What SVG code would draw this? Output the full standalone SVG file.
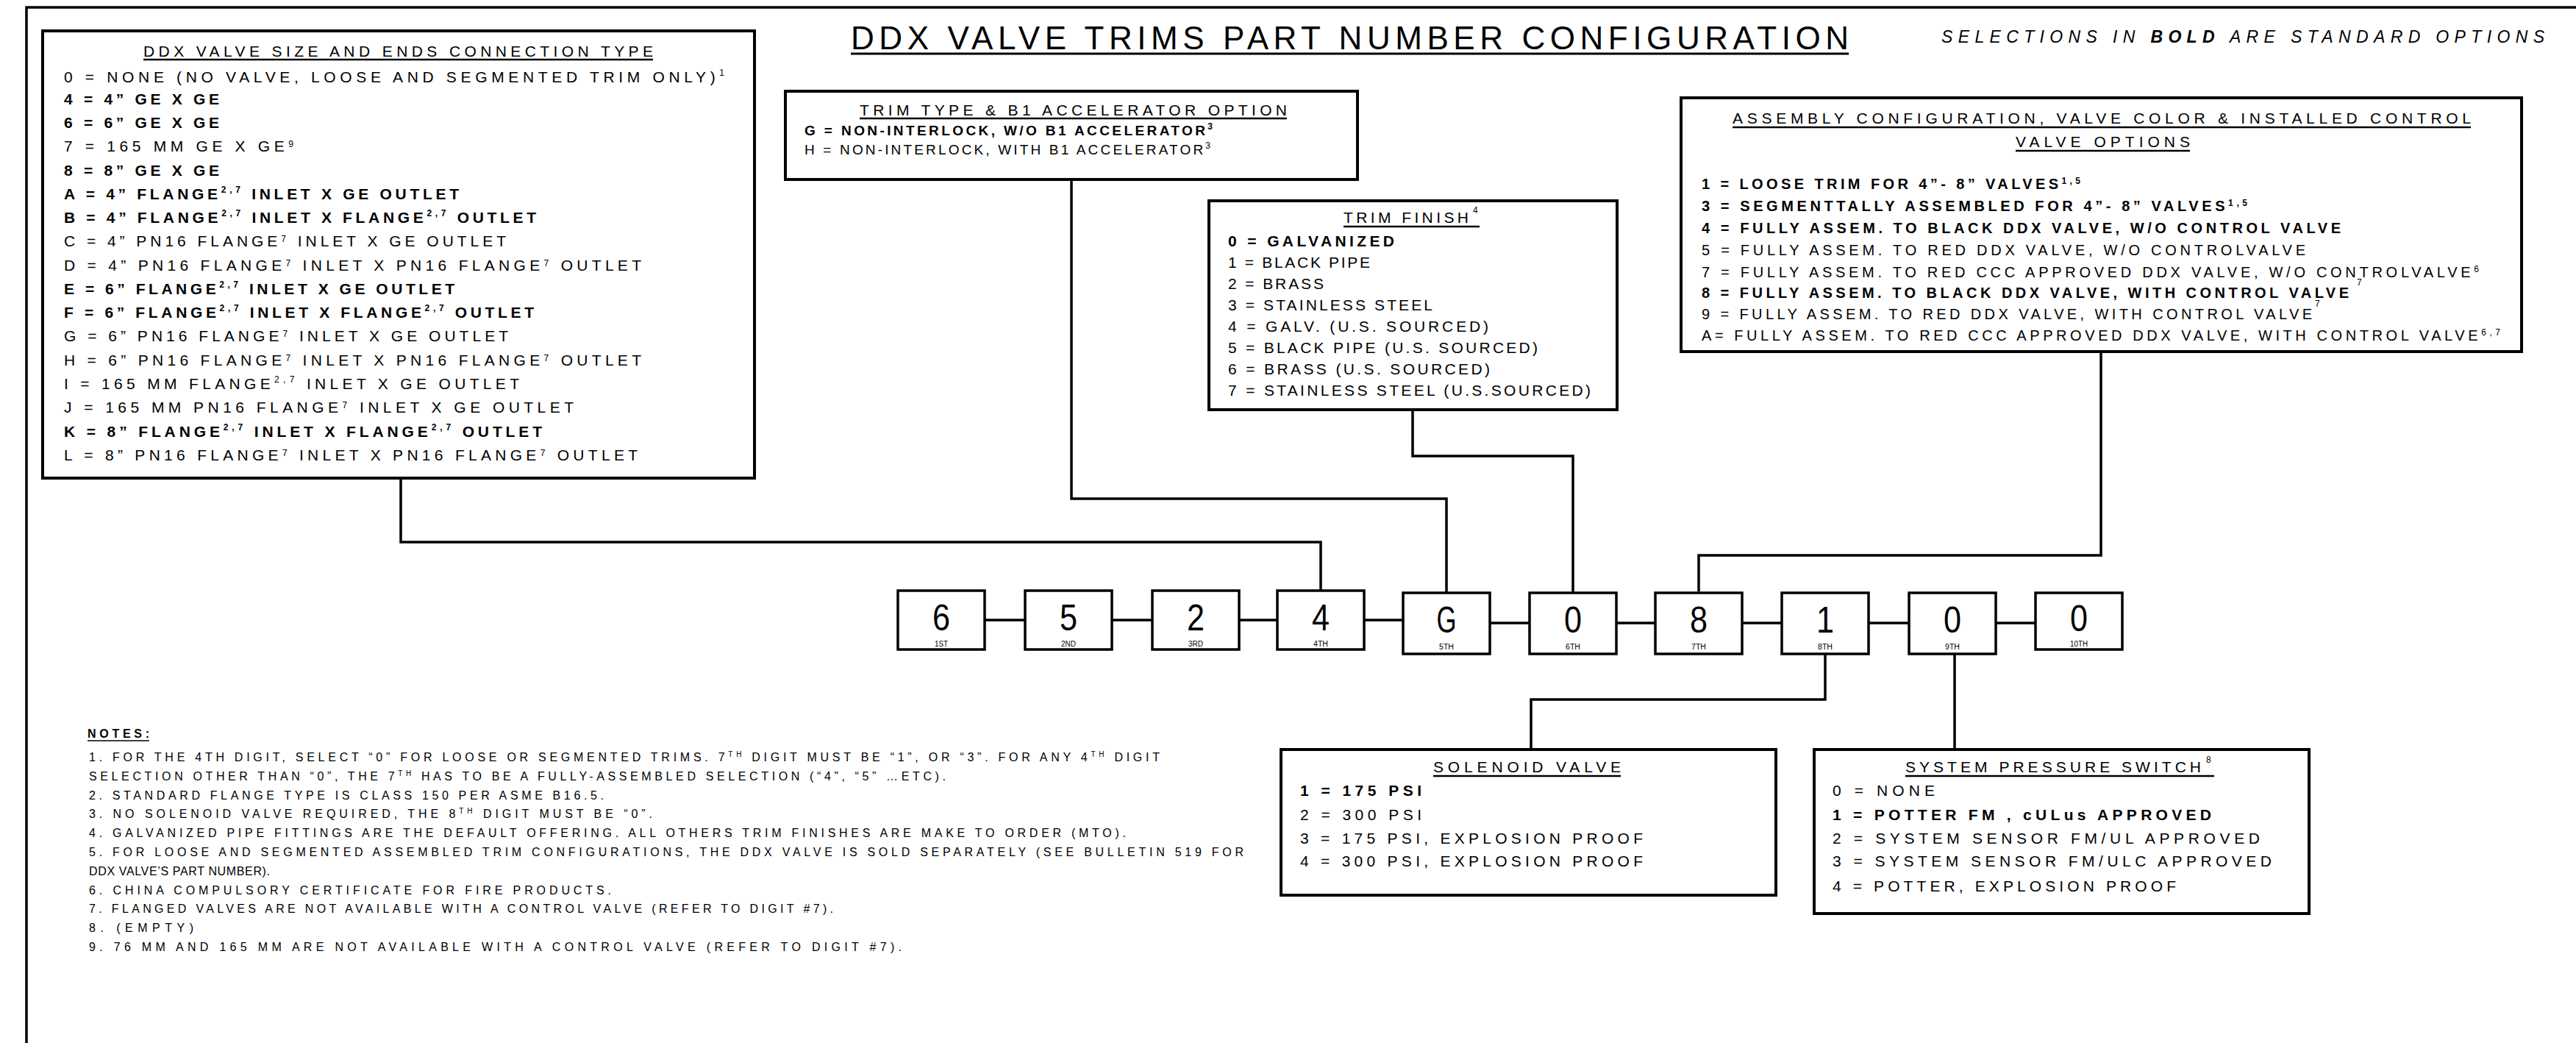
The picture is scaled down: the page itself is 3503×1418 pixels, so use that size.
<svg xmlns="http://www.w3.org/2000/svg" width="3503" height="1418" viewBox="0 0 3503 1418">
<style>
.bg{fill:#fff}
.bx{fill:#fff;stroke:#000;stroke-width:4}
.dg{fill:#fff;stroke:#000;stroke-width:3.5}
.cn{fill:none;stroke:#000;stroke-width:3.5}
.ul{stroke:#000;stroke-width:2.5}
.t{font-family:"Liberation Sans",Arial,sans-serif;font-size:21px;fill:#000}
.n{font-family:"Liberation Sans",Arial,sans-serif;font-size:16px;fill:#000}
.sm{font-family:"Liberation Sans",Arial,sans-serif;font-size:19px;fill:#000}
.b{font-weight:bold}
.s{font-size:12px}
.d{font-family:"Liberation Sans",Arial,sans-serif;font-size:50px;fill:#000;text-anchor:middle}
.o{font-family:"Liberation Sans",Arial,sans-serif;font-size:10px;fill:#000;text-anchor:middle}
</style>
<rect class="bg" x="0" y="0" width="3503" height="1418"/>
<path class="cn" d="M36,1418 V10 H3503"/>

<g id="title">
<text class="t" x="1157" y="67" style="font-size:44px" textLength="1357" lengthAdjust="spacing">DDX VALVE TRIMS PART NUMBER CONFIGURATION</text>
<line x1="1157" y1="73" x2="2514" y2="73" stroke="#000" stroke-width="3"/>
<text class="t" x="2640" y="58" style="font-size:23px;font-style:italic" textLength="820" lengthAdjust="spacing">SELECTIONS IN <tspan class="b">BOLD</tspan> ARE STANDARD OPTIONS</text>
</g>

<g id="connectors">
<path class="cn" d="M545,650 V737 H1796 V803"/>
<path class="cn" d="M1457,244 V678 H1967 V806"/>
<path class="cn" d="M1921,557 V620 H2139 V806"/>
<path class="cn" d="M2857,478 V755 H2310 V804"/>
<path class="cn" d="M1339,843 H1394 M1512,843 H1567 M1685,843 H1737 M1855,843 H1908 M2026,847 H2080 M2198,847 H2251 M2369,847 H2423 M2541,847 H2596 M2714,847 H2768"/>
<path class="cn" d="M2482,889 V951 H2082 V1019"/>
<path class="cn" d="M2658,889 V1019"/>
</g>

<g id="valve-size">
<rect class="bx" x="58" y="42" width="968" height="608"/>
<text class="t" x="195" y="77" textLength="693" lengthAdjust="spacing">DDX VALVE SIZE AND ENDS CONNECTION TYPE</text>
<line class="ul" x1="195" y1="81" x2="888" y2="81"/>
<text class="t" x="87" y="112" textLength="898" lengthAdjust="spacing">0 = NONE (NO VALVE, LOOSE AND SEGMENTED TRIM ONLY)<tspan class="s" dy="-9">1</tspan></text>
<text class="t b" x="87" y="142" textLength="211" lengthAdjust="spacing">4 = 4” GE X GE</text>
<text class="t b" x="87" y="174" textLength="211" lengthAdjust="spacing">6 = 6” GE X GE</text>
<text class="t" x="87" y="206" textLength="312" lengthAdjust="spacing">7 = 165 MM GE X GE<tspan class="s" dy="-6">9</tspan></text>
<text class="t b" x="87" y="239" textLength="211" lengthAdjust="spacing">8 = 8” GE X GE</text>
<text class="t b" x="87" y="271" textLength="537" lengthAdjust="spacing">A = 4” FLANGE<tspan class="s" dy="-9">2,7</tspan><tspan dy="9"> INLET X GE OUTLET</tspan></text>
<text class="t b" x="87" y="303" textLength="642" lengthAdjust="spacing">B = 4” FLANGE<tspan class="s" dy="-9">2,7</tspan><tspan dy="9"> INLET X FLANGE</tspan><tspan class="s" dy="-9">2,7</tspan><tspan dy="9"> OUTLET</tspan></text>
<text class="t" x="87" y="335" textLength="601" lengthAdjust="spacing">C = 4” PN16 FLANGE<tspan class="s" dy="-6">7</tspan><tspan dy="6"> INLET X GE OUTLET</tspan></text>
<text class="t" x="87" y="368" textLength="785" lengthAdjust="spacing">D = 4” PN16 FLANGE<tspan class="s" dy="-6">7</tspan><tspan dy="6"> INLET X PN16 FLANGE</tspan><tspan class="s" dy="-6">7</tspan><tspan dy="6"> OUTLET</tspan></text>
<text class="t b" x="87" y="400" textLength="531" lengthAdjust="spacing">E = 6” FLANGE<tspan class="s" dy="-9">2,7</tspan><tspan dy="9"> INLET X GE OUTLET</tspan></text>
<text class="t b" x="87" y="432" textLength="639" lengthAdjust="spacing">F = 6” FLANGE<tspan class="s" dy="-9">2,7</tspan><tspan dy="9"> INLET X FLANGE</tspan><tspan class="s" dy="-9">2,7</tspan><tspan dy="9"> OUTLET</tspan></text>
<text class="t" x="87" y="464" textLength="604" lengthAdjust="spacing">G = 6” PN16 FLANGE<tspan class="s" dy="-6">7</tspan><tspan dy="6"> INLET X GE OUTLET</tspan></text>
<text class="t" x="87" y="497" textLength="785" lengthAdjust="spacing">H = 6” PN16 FLANGE<tspan class="s" dy="-6">7</tspan><tspan dy="6"> INLET X PN16 FLANGE</tspan><tspan class="s" dy="-6">7</tspan><tspan dy="6"> OUTLET</tspan></text>
<text class="t" x="87" y="529" textLength="619" lengthAdjust="spacing">I =  165 MM FLANGE<tspan class="s" dy="-9">2,7</tspan><tspan dy="9"> INLET X GE OUTLET</tspan></text>
<text class="t" x="87" y="561" textLength="693" lengthAdjust="spacing">J =  165 MM PN16 FLANGE<tspan class="s" dy="-6">7</tspan><tspan dy="6"> INLET X GE OUTLET</tspan></text>
<text class="t b" x="87" y="594" textLength="650" lengthAdjust="spacing">K =  8” FLANGE<tspan class="s" dy="-9">2,7</tspan><tspan dy="9"> INLET X FLANGE</tspan><tspan class="s" dy="-9">2,7</tspan><tspan dy="9"> OUTLET</tspan></text>
<text class="t" x="87" y="626" textLength="780" lengthAdjust="spacing">L =  8” PN16 FLANGE<tspan class="s" dy="-6">7</tspan><tspan dy="6"> INLET X PN16 FLANGE</tspan><tspan class="s" dy="-6">7</tspan><tspan dy="6"> OUTLET</tspan></text>
</g>

<g id="trim-type">
<rect class="bx" x="1068" y="124" width="778" height="120"/>
<text class="t" x="1169" y="157" textLength="581" lengthAdjust="spacing">TRIM TYPE &amp; B1 ACCELERATOR OPTION</text>
<line class="ul" x1="1169" y1="161" x2="1750" y2="161"/>
<text class="sm b" x="1094" y="184" textLength="555" lengthAdjust="spacing">G = NON-INTERLOCK, W/O B1 ACCELERATOR<tspan class="s" dy="-8">3</tspan></text>
<text class="sm" x="1094" y="210" textLength="552" lengthAdjust="spacing">H = NON-INTERLOCK, WITH B1 ACCELERATOR<tspan class="s" dy="-8">3</tspan></text>
</g>

<g id="trim-finish">
<rect class="bx" x="1644" y="273" width="555" height="284"/>
<text class="t" x="1827" y="303" textLength="170" lengthAdjust="spacing">TRIM FINISH</text>
<text class="t s" x="2003" y="290">4</text>
<line class="ul" x1="1827" y1="308" x2="2012" y2="308"/>
<text class="t b" x="1670" y="335" textLength="226" lengthAdjust="spacing">0 = GALVANIZED</text>
<text class="t" x="1670" y="364" textLength="193" lengthAdjust="spacing">1 = BLACK PIPE</text>
<text class="t" x="1670" y="393" textLength="130" lengthAdjust="spacing">2 = BRASS</text>
<text class="t" x="1670" y="422" textLength="278" lengthAdjust="spacing">3 = STAINLESS STEEL</text>
<text class="t" x="1670" y="451" textLength="354" lengthAdjust="spacing">4 = GALV. (U.S. SOURCED)</text>
<text class="t" x="1670" y="480" textLength="421" lengthAdjust="spacing">5 = BLACK PIPE (U.S. SOURCED)</text>
<text class="t" x="1670" y="509" textLength="356" lengthAdjust="spacing">6 = BRASS (U.S. SOURCED)</text>
<text class="t" x="1670" y="538" textLength="493" lengthAdjust="spacing">7 = STAINLESS STEEL (U.S.SOURCED)</text>
</g>

<g id="assembly">
<rect class="bx" x="2286" y="133" width="1143" height="345"/>
<text class="t" x="2356" y="168" textLength="1004" lengthAdjust="spacing">ASSEMBLY CONFIGURATION, VALVE COLOR &amp; INSTALLED CONTROL</text>
<line class="ul" x1="2356" y1="173" x2="3360" y2="173"/>
<text class="t" x="2741" y="200" textLength="237" lengthAdjust="spacing">VALVE OPTIONS</text>
<line class="ul" x1="2741" y1="205" x2="2978" y2="205"/>
<text class="t b" x="2314" y="257" style="font-size:20px" textLength="515" lengthAdjust="spacing">1 = LOOSE TRIM FOR 4”- 8” VALVES<tspan class="s" dy="-7">1,5</tspan></text>
<text class="t b" x="2314" y="287" style="font-size:20px" textLength="742" lengthAdjust="spacing">3 = SEGMENTTALLY ASSEMBLED FOR  4”- 8” VALVES<tspan class="s" dy="-7">1,5</tspan></text>
<text class="t b" x="2314" y="317" style="font-size:20px" textLength="869" lengthAdjust="spacing">4 = FULLY ASSEM. TO BLACK DDX VALVE, W/O CONTROL VALVE</text>
<text class="t" x="2314" y="347" style="font-size:20px" textLength="821" lengthAdjust="spacing">5 = FULLY ASSEM. TO RED DDX VALVE, W/O CONTROLVALVE</text>
<text class="t" x="2314" y="377" style="font-size:20px" textLength="1057" lengthAdjust="spacing">7 = FULLY ASSEM. TO RED CCC APPROVED DDX VALVE, W/O CONTROLVALVE<tspan class="s" dy="-7">6</tspan></text>
<text class="t s" x="3205" y="388">7</text>
<text class="t b" x="2314" y="405" style="font-size:20px" textLength="880" lengthAdjust="spacing">8 = FULLY ASSEM. TO BLACK DDX VALVE, WITH CONTROL VALVE</text>
<text class="t" x="2314" y="434" style="font-size:20px" textLength="830" lengthAdjust="spacing">9 = FULLY ASSEM. TO RED DDX VALVE, WITH CONTROL VALVE</text>
<text class="t s" x="3148" y="417">7</text>
<text class="t" x="2314" y="463" style="font-size:20px" textLength="1086" lengthAdjust="spacing">A= FULLY ASSEM. TO RED CCC APPROVED DDX VALVE, WITH CONTROL VALVE<tspan class="s" dy="-7">6,7</tspan></text>
</g>

<g id="digit1"><rect class="dg" x="1221" y="803" width="118" height="80"/><text class="d" x="1280" y="857" textLength="24" lengthAdjust="spacingAndGlyphs">6</text><text class="o" x="1280" y="879" textLength="18" lengthAdjust="spacingAndGlyphs">1ST</text></g>
<g id="digit2"><rect class="dg" x="1394" y="803" width="118" height="80"/><text class="d" x="1453" y="857" textLength="24" lengthAdjust="spacingAndGlyphs">5</text><text class="o" x="1453" y="879" textLength="20" lengthAdjust="spacingAndGlyphs">2ND</text></g>
<g id="digit3"><rect class="dg" x="1567" y="803" width="118" height="80"/><text class="d" x="1626" y="857" textLength="24" lengthAdjust="spacingAndGlyphs">2</text><text class="o" x="1626" y="879" textLength="20" lengthAdjust="spacingAndGlyphs">3RD</text></g>
<g id="digit4"><rect class="dg" x="1737" y="803" width="118" height="80"/><text class="d" x="1796" y="857" textLength="24" lengthAdjust="spacingAndGlyphs">4</text><text class="o" x="1796" y="879" textLength="20" lengthAdjust="spacingAndGlyphs">4TH</text></g>
<g id="digit5"><rect class="dg" x="1908" y="806" width="118" height="83"/><text class="d" x="1967" y="860" textLength="27" lengthAdjust="spacingAndGlyphs">G</text><text class="o" x="1967" y="883" textLength="20" lengthAdjust="spacingAndGlyphs">5TH</text></g>
<g id="digit6"><rect class="dg" x="2080" y="806" width="118" height="83"/><text class="d" x="2139" y="860" textLength="24" lengthAdjust="spacingAndGlyphs">0</text><text class="o" x="2139" y="883" textLength="20" lengthAdjust="spacingAndGlyphs">6TH</text></g>
<g id="digit7"><rect class="dg" x="2251" y="806" width="118" height="83"/><text class="d" x="2310" y="860" textLength="24" lengthAdjust="spacingAndGlyphs">8</text><text class="o" x="2310" y="883" textLength="20" lengthAdjust="spacingAndGlyphs">7TH</text></g>
<g id="digit8"><rect class="dg" x="2423" y="806" width="118" height="83"/><text class="d" x="2482" y="860" textLength="24" lengthAdjust="spacingAndGlyphs">1</text><text class="o" x="2482" y="883" textLength="20" lengthAdjust="spacingAndGlyphs">8TH</text></g>
<g id="digit9"><rect class="dg" x="2596" y="806" width="118" height="83"/><text class="d" x="2655" y="860" textLength="24" lengthAdjust="spacingAndGlyphs">0</text><text class="o" x="2655" y="883" textLength="20" lengthAdjust="spacingAndGlyphs">9TH</text></g>
<g id="digit10"><rect class="dg" x="2768" y="806" width="118" height="77"/><text class="d" x="2827" y="858" textLength="24" lengthAdjust="spacingAndGlyphs">0</text><text class="o" x="2827" y="879" textLength="24" lengthAdjust="spacingAndGlyphs">10TH</text></g>

<g id="solenoid">
<rect class="bx" x="1742" y="1019" width="673" height="198"/>
<text class="t" x="1949" y="1050" textLength="255" lengthAdjust="spacing">SOLENOID VALVE</text>
<line class="ul" x1="1949" y1="1055" x2="2204" y2="1055"/>
<text class="t b" x="1768" y="1082" textLength="165" lengthAdjust="spacing">1 = 175 PSI</text>
<text class="t" x="1768" y="1115" textLength="165" lengthAdjust="spacing">2 = 300 PSI</text>
<text class="t" x="1768" y="1147" textLength="466" lengthAdjust="spacing">3 = 175 PSI, EXPLOSION PROOF</text>
<text class="t" x="1768" y="1178" textLength="466" lengthAdjust="spacing">4 = 300 PSI, EXPLOSION PROOF</text>
</g>

<g id="pressure-switch">
<rect class="bx" x="2467" y="1019" width="673" height="223"/>
<text class="t" x="2591" y="1050" textLength="402" lengthAdjust="spacing">SYSTEM  PRESSURE SWITCH</text>
<text class="t s" x="3000" y="1037">8</text>
<line class="ul" x1="2591" y1="1055" x2="3011" y2="1055"/>
<text class="t" x="2492" y="1082" textLength="139" lengthAdjust="spacing">0 = NONE</text>
<text class="t b" x="2492" y="1115" textLength="515" lengthAdjust="spacing">1 = POTTER  FM , cULus APPROVED</text>
<text class="t" x="2492" y="1147" textLength="581" lengthAdjust="spacing">2 = SYSTEM  SENSOR FM/UL APPROVED</text>
<text class="t" x="2492" y="1178" textLength="597" lengthAdjust="spacing">3 = SYSTEM  SENSOR FM/ULC APPROVED</text>
<text class="t" x="2492" y="1212" textLength="467" lengthAdjust="spacing">4 = POTTER, EXPLOSION PROOF</text>
</g>

<g id="notes">
<text class="n b" x="119" y="1003" textLength="84" lengthAdjust="spacing">NOTES:</text>
<line x1="119" y1="1007" x2="203" y2="1007" stroke="#000" stroke-width="1.5"/>
<text class="n" x="121" y="1035" textLength="1456" lengthAdjust="spacing">1. FOR THE 4TH DIGIT, SELECT “0” FOR LOOSE OR SEGMENTED TRIMS.  7<tspan style="font-size:10px" dy="-6">TH</tspan><tspan dy="6"> DIGIT MUST BE “1”, OR “3”.   FOR ANY 4</tspan><tspan style="font-size:10px" dy="-6">TH</tspan><tspan dy="6"> DIGIT</tspan></text>
<text class="n" x="121" y="1061" textLength="1165" lengthAdjust="spacing">SELECTION OTHER THAN “0”, THE 7<tspan style="font-size:10px" dy="-6">TH</tspan><tspan dy="6"> HAS TO BE A FULLY-ASSEMBLED SELECTION (“4”, “5” …ETC).</tspan></text>
<text class="n" x="121" y="1087" textLength="700" lengthAdjust="spacing">2.  STANDARD FLANGE TYPE IS CLASS 150 PER ASME B16.5.</text>
<text class="n" x="121" y="1112" textLength="766" lengthAdjust="spacing">3.  NO SOLENOID VALVE REQUIRED, THE 8<tspan style="font-size:10px" dy="-6">TH</tspan><tspan dy="6"> DIGIT MUST BE “0”.</tspan></text>
<text class="n" x="121" y="1138" textLength="1410" lengthAdjust="spacing">4.  GALVANIZED PIPE FITTINGS ARE THE DEFAULT OFFERING.  ALL OTHERS TRIM  FINISHES ARE MAKE TO ORDER (MTO).</text>
<text class="n" x="121" y="1164" textLength="1570" lengthAdjust="spacing">5.  FOR LOOSE AND SEGMENTED ASSEMBLED TRIM CONFIGURATIONS, THE DDX VALVE IS SOLD SEPARATELY (SEE BULLETIN 519 FOR</text>
<text class="n" x="121" y="1190" textLength="246" lengthAdjust="spacing">DDX VALVE’S PART NUMBER).</text>
<text class="n" x="121" y="1216" textLength="710" lengthAdjust="spacing">6.  CHINA COMPULSORY CERTIFICATE FOR FIRE PRODUCTS.</text>
<text class="n" x="121" y="1241" textLength="1012" lengthAdjust="spacing">7.  FLANGED VALVES ARE NOT AVAILABLE WITH A CONTROL VALVE (REFER TO DIGIT #7).</text>
<text class="n" x="121" y="1267" textLength="142" lengthAdjust="spacing">8.  (EMPTY)</text>
<text class="n" x="121" y="1293" textLength="1105" lengthAdjust="spacing">9.  76 MM AND 165 MM ARE NOT AVAILABLE WITH A CONTROL VALVE (REFER TO DIGIT #7).</text>
</g>
</svg>
